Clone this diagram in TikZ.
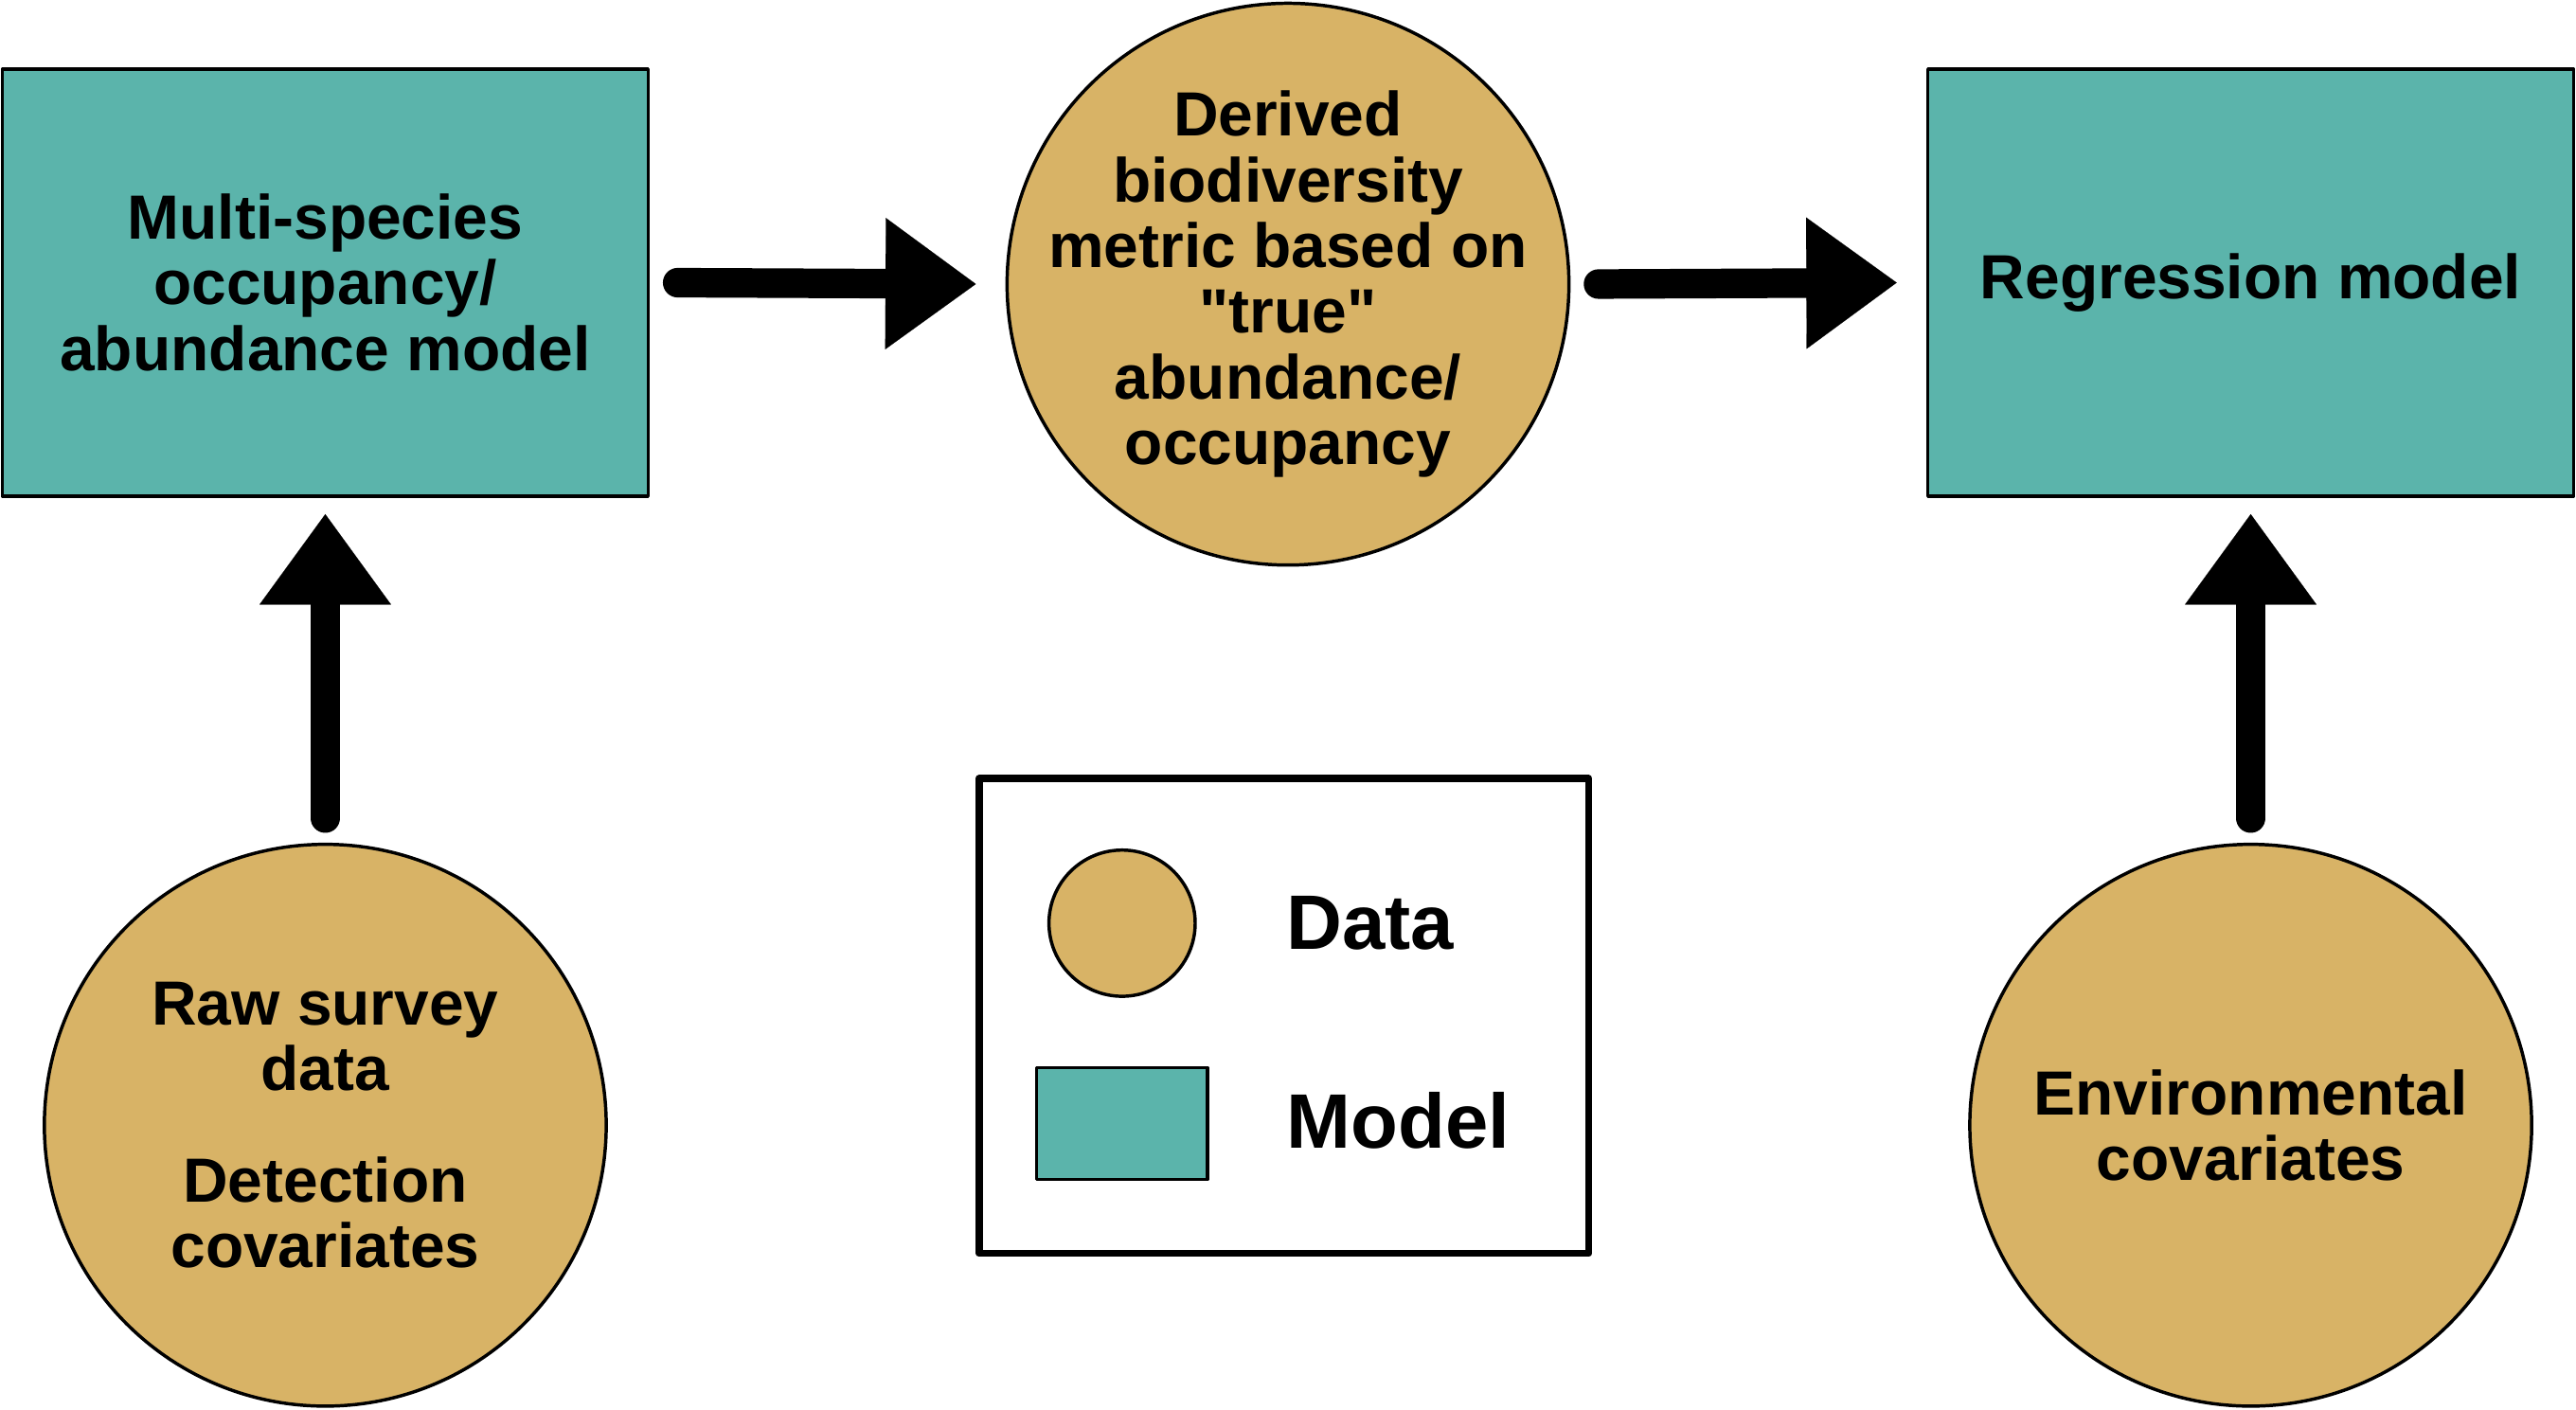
\documentclass[tikz,border=0pt]{standalone}
\usepackage{fontspec}
\setmainfont{Liberation Sans}
\usepackage{tikz}
\usetikzlibrary{arrows.meta}
\definecolor{modelteal}{RGB}{91,180,171}
\definecolor{datatan}{RGB}{216,179,102}

\begin{document}
\begin{tikzpicture}[line cap=round,line join=round,x=1pt,y=-1pt]
\useasboundingbox (0,0) rectangle (1568,858);
\tikzstyle{mymodel}=[draw, line width=2pt, fill=modelteal, minimum width=393pt, minimum height=260pt, inner sep=0pt, align=center, font=\bfseries\fontsize{38}{40}\selectfont];
\tikzstyle{mydata}=[draw, circle, line width=2pt, fill=datatan, minimum size=342pt, inner sep=0pt, align=center, font=\bfseries\fontsize{38}{40}\selectfont];
\tikzstyle{myarrow}=[line width=18pt, -{Triangle[length=55pt,width=80pt,line width=0.1pt]}];

%models
\node[mymodel] (msom) at (198,172) {Multi-species\\occupancy/\\abundance model};
\node[mymodel] (regr) at (1370,172) {Regression model};
%data
\node[mydata, inner sep=-40pt] (derived) at (784,173) {Derived\\biodiversity\\metric based on\\\textquotedbl true\textquotedbl\\abundance/\\occupancy};
\node[mydata] (raw) at (198,685) {Raw survey\\data\\[28pt]Detection\\covariates};
\node[mydata] (env) at (1370,685) {Environmental\\covariates};

\draw[myarrow, shorten <=17pt, shorten >=18pt] (msom.east) -- (derived.west);
\draw[myarrow, shorten <=17pt, shorten >=18pt] (derived.east) -- (regr.west);
\draw[myarrow, shorten <=15pt, shorten >=10pt] (raw.north) -- (msom.south);
\draw[myarrow, shorten <=15pt, shorten >=10pt] (env.north) -- (regr.south);

%legend
\draw[line width=4.5pt] (596,474) rectangle (967,763);
\node[draw, circle, line width=2pt, fill=datatan, minimum size=89pt] (legdata) at (683,562) {};
\node[draw, line width=2pt, fill=modelteal, minimum width=104pt, minimum height=68pt] (legmodel) at (683,684) {};
\node[anchor=west, inner sep=0pt, font=\bfseries\fontsize{47}{50}\selectfont] (datalab) at (783,562) {Data};
\node[anchor=west, inner sep=0pt, font=\bfseries\fontsize{47}{50}\selectfont] (modellab) at (783,682) {Model};
\end{tikzpicture}
\end{document}
